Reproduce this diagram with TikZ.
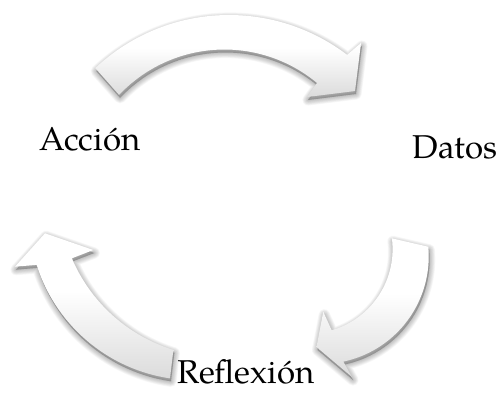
\documentclass[tikz,border=0pt]{standalone}
\usepackage{fontspec}
\setmainfont{texgyrepagella-regular.otf}
\definecolor{shgray}{gray}{0.86}
\pgfdeclareverticalshading{arrshade}{100bp}{color(0bp)=(shgray); color(25bp)=(shgray); color(55bp)=(white); color(100bp)=(white)}
\begin{document}
\begin{tikzpicture}[x=1pt,y=-1pt,
  lbl/.style={font=\fontsize{33}{38}\selectfont, anchor=base, inner sep=0pt},
  shadowlayer/.style={fill=black, fill opacity=0.03, draw=black, draw opacity=0.03, line join=round},
  body/.style={shading=arrshade},
  toparr/.style={insert path={plot[domain=-133.3:-52.7,samples=60] ({229+195*cos(\x)},{210+195*sin(\x)}) -- (361,43) -- (355,91) -- (307,97) -- plot[domain=-50.3:-136.6,samples=60] ({224.4+145*cos(\x)},{194.5+145*sin(\x)}) -- cycle}},
  rightarr/.style={insert path={plot[domain=-5.1:78.1,samples=60] ({321.1+107.6*cos(\x)},{256.3+107.6*sin(\x)}) -- (352,377) -- (316.5,347) -- (323.3,311.7) -- plot[domain=73.8:-7.4,samples=60] ({308.2+84.4*cos(\x)},{249.2+84.4*sin(\x)}) -- cycle}},
  leftarr/.style={insert path={plot[domain=98.4:162.4,samples=60] ({194.1+165.2*cos(\x)},{214.9+165.2*sin(\x)}) -- (15,266.7) -- (45,233.3) -- (93.3,250) -- plot[domain=157:107.1,samples=60] ({221+162*cos(\x)},{195+162*sin(\x)}) -- cycle}}
]
\fill[white] (0,0) rectangle (499,392);
\useasboundingbox (0,0) rectangle (499,392);
\foreach \i in {1,...,8}{
  \path[shadowlayer, line width=1.4*\i, shift={(1,3)}, toparr];
  \path[shadowlayer, line width=1.4*\i, shift={(1,3)}, rightarr];
  \path[shadowlayer, line width=1.4*\i, shift={(1,3)}, leftarr];
}
\shade[body, toparr];
\shade[body, rightarr];
\shade[body, leftarr];
\node[lbl] (accion) at (90,150) {Acción};
\node[lbl] (datos) at (455,158) {Datos};
\node[lbl] (reflexion) at (246,383) {Reflexión};
\end{tikzpicture}
\end{document}
